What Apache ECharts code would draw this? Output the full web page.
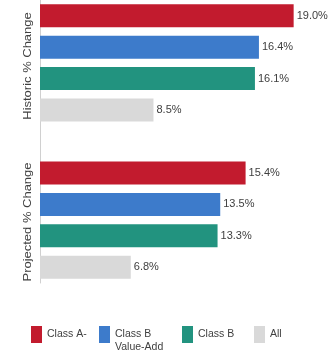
<!DOCTYPE html>
<html>
<head>
<meta charset="utf-8">
<script src="https://cdn.jsdelivr.net/npm/echarts@6/dist/echarts.min.js"></script>
<style>html,body{margin:0;padding:0;background:#fff}#c{width:332px;height:360px}</style>
</head>
<body>
<div id="c"></div>
<script>
const periods = ['Historic % Change', 'Projected % Change'];
const classes = ['Class A-', 'Class B Value-Add', 'Class B', 'All'];
const legendLabels = ['Class A-', '\nClass B\nValue-Add', 'Class B', 'All'];
const historic = [19.0, 16.4, 16.1, 8.5];
const projected = [15.4, 13.5, 13.3, 6.8];
const colors = ['#C21B2E', '#3D7BCB', '#22937F', '#D9D9D9'];

const FONT = '"Liberation Sans Narrow", "Liberation Sans", Arial, sans-serif';
// 9 category slots: 4 historic, 1 spacer, 4 projected
const slots = [];
classes.forEach(c => slots.push('H|' + c));
slots.push('gap');
classes.forEach(c => slots.push('P|' + c));

const series = classes.map((c, i) => {
  const d = slots.map(() => null);
  d[i] = historic[i];
  d[5 + i] = projected[i];
  return {
    name: c,
    type: 'bar',
    stack: 'all',
    data: d,
    barWidth: 23,
    itemStyle: { color: colors[i] },
    label: {
      show: true, position: 'right', distance: 3,
      fontFamily: FONT, fontSize: 11, color: '#404040',
      formatter: p => p.value == null ? '' : p.value.toFixed(1) + '%'
    }
  };
});

const legendLeft = [31, 99, 182, 254];
const legends = classes.map((c, i) => ({
  left: legendLeft[i],
  top: i === 1 ? 315 : 326,
  padding: 0,
  orient: 'horizontal',
  icon: 'rect',
  itemWidth: 11, itemHeight: 17,
  selectedMode: false,
  data: [c],
  formatter: () => legendLabels[i],
  textStyle: { fontFamily: FONT, fontSize: 10.5, color: '#404040', lineHeight: 13 }
}));

const chart = echarts.init(document.getElementById('c'), null, { renderer: 'canvas' });
chart.setOption({
  animation: false,
  grid: { left: 40, right: 25, top: -1, height: 284, containLabel: false },
  xAxis: { type: 'value', min: 0, max: 20, show: false },
  yAxis: {
    type: 'category', data: slots, inverse: true,
    axisLine: { show: true, lineStyle: { color: '#d0d0d0', width: 1 } },
    axisTick: { show: false }, axisLabel: { show: false }, splitLine: { show: false }
  },
  legend: legends,
  graphic: [
    { type: 'text', x: 28, y: 66, rotation: Math.PI / 2, scaleX: 1.18,
      style: { text: periods[0], fontFamily: '"Liberation Sans", Arial, sans-serif', fontSize: 11, fill: '#404040', textAlign: 'center', textVerticalAlign: 'middle' } },
    { type: 'text', x: 28, y: 222, rotation: Math.PI / 2, scaleX: 1.18,
      style: { text: periods[1], fontFamily: '"Liberation Sans", Arial, sans-serif', fontSize: 11, fill: '#404040', textAlign: 'center', textVerticalAlign: 'middle' } }
  ],
  series: series
});
</script>
</body>
</html>
